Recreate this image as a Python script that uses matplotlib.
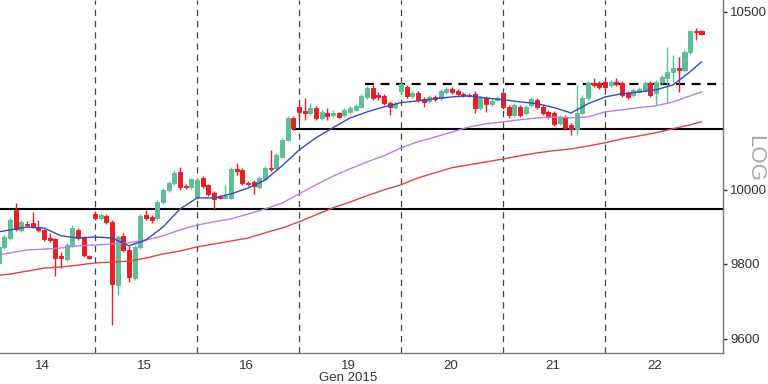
import numpy as np
import matplotlib
matplotlib.use('Agg')
import matplotlib.pyplot as plt

plt.rcParams['font.family'] = ['Liberation Sans', 'DejaVu Sans']

# 30 min bars, 18 per session, 14-22 Jan 2015
day_labels = ['14', '15', '16', '19\nGen 2015', '20', '21', '22']
bars_per_day = 18

opens = [
    9788, 9802, 9845, 9869, 9945, 9891, 9907, 9910, 9899, 9891, 9869, 9866, 9821, 9813, 9850, 9891, 9869, 9821,
    9934, 9923, 9929, 9913, 9743, 9875, 9837, 9762, 9845, 9932, 9926, 9923, 9967, 10000, 10019, 10049, 10011, 10008,
    9981, 10033, 10014, 9992, 9981, 9978, 9978, 10058, 10055, 10019, 10022, 10008, 10030, 10061, 10061, 10091, 10138, 10199,
    10230, 10219, 10213, 10228, 10199, 10213, 10208, 10213, 10208, 10216, 10222, 10230, 10258, 10284, 10264, 10261, 10242, 10230,
    10275, 10286, 10261, 10269, 10253, 10247, 10258, 10255, 10272, 10281, 10275, 10267, 10264, 10267, 10228, 10255, 10239, 10250,
    10269, 10230, 10208, 10230, 10213, 10236, 10250, 10230, 10216, 10213, 10185, 10202, 10180, 10169, 10213, 10255, 10298, 10298,
    10300, 10292, 10300, 10298, 10269, 10264, 10272, 10278, 10298, 10269, 10300, 10312, 10329, 10340, 10334, 10386, 10445, 10445,
]
highs = [
    9810, 9850, 9877, 9923, 9964, 9918, 9915, 9940, 9918, 9893, 9883, 9869, 9831, 9856, 9904, 9896, 9875, 9823,
    9943, 9937, 9934, 9918, 9877, 9883, 9848, 9850, 9934, 9945, 9932, 9973, 10005, 10025, 10055, 10063, 10016, 10033,
    10033, 10038, 10016, 9997, 9986, 10014, 10063, 10074, 10061, 10025, 10027, 10038, 10066, 10110, 10102, 10144, 10205, 10205,
    10239, 10255, 10242, 10233, 10222, 10228, 10222, 10216, 10228, 10233, 10239, 10267, 10289, 10292, 10272, 10267, 10247, 10244,
    10300, 10292, 10275, 10275, 10258, 10264, 10264, 10281, 10286, 10286, 10281, 10272, 10269, 10275, 10261, 10261, 10253, 10261,
    10275, 10236, 10242, 10236, 10236, 10258, 10255, 10236, 10222, 10219, 10208, 10208, 10185, 10292, 10264, 10303, 10312, 10303,
    10306, 10306, 10312, 10303, 10275, 10284, 10286, 10303, 10303, 10306, 10320, 10400, 10377, 10371, 10391, 10448, 10454, 10448,
]
lows = [
    9778, 9794, 9839, 9864, 9888, 9885, 9899, 9896, 9885, 9861, 9858, 9767, 9788, 9807, 9845, 9864, 9818, 9813,
    9918, 9918, 9907, 9637, 9716, 9831, 9751, 9756, 9839, 9918, 9910, 9918, 9962, 9995, 10014, 10000, 10003, 10003,
    9975, 10005, 9984, 9945, 9975, 9975, 9975, 10041, 10014, 10011, 9989, 10003, 10027, 10052, 10055, 10088, 10135, 10166,
    10188, 10194, 10208, 10194, 10194, 10194, 10202, 10199, 10202, 10213, 10219, 10228, 10253, 10250, 10250, 10236, 10208, 10225,
    10269, 10255, 10255, 10244, 10230, 10242, 10247, 10250, 10267, 10267, 10261, 10258, 10258, 10213, 10222, 10216, 10233, 10247,
    10225, 10199, 10202, 10202, 10208, 10230, 10225, 10208, 10197, 10177, 10180, 10166, 10152, 10152, 10208, 10250, 10286, 10281,
    10281, 10286, 10289, 10258, 10253, 10258, 10269, 10272, 10258, 10236, 10295, 10242, 10300, 10272, 10329, 10380, 10420, 10434,
]
closes = [
    9804, 9845, 9872, 9918, 9893, 9913, 9904, 9902, 9891, 9866, 9864, 9815, 9815, 9850, 9896, 9869, 9823, 9815,
    9923, 9932, 9913, 9746, 9872, 9837, 9764, 9845, 9929, 9923, 9918, 9967, 10000, 10019, 10047, 10008, 10008, 10030,
    10027, 10011, 9989, 9975, 9978, 9984, 10058, 10052, 10019, 10016, 10011, 10033, 10061, 10058, 10096, 10138, 10199, 10172,
    10216, 10213, 10228, 10199, 10216, 10205, 10213, 10202, 10222, 10228, 10233, 10261, 10284, 10255, 10258, 10242, 10230, 10239,
    10295, 10261, 10269, 10250, 10244, 10258, 10253, 10275, 10281, 10272, 10267, 10264, 10261, 10228, 10255, 10239, 10247, 10255,
    10230, 10208, 10236, 10208, 10230, 10253, 10230, 10213, 10202, 10183, 10202, 10172, 10169, 10213, 10255, 10298, 10292, 10286,
    10286, 10300, 10295, 10264, 10258, 10278, 10281, 10298, 10264, 10300, 10315, 10329, 10340, 10334, 10386, 10445, 10443, 10437,
]

# moving averages, read every 3rd bar
ma_idx = list(range(0, 126, 3)) + [125]
ma_fast = [9883, 9891, 9899, 9896, 9875, 9869, 9872, 9869, 9848, 9864, 9899, 9948, 9978, 9978, 9989,
           10005, 10027, 10066, 10110, 10144, 10172, 10199, 10216, 10230, 10242, 10247, 10253, 10258,
           10261, 10255, 10250, 10244, 10239, 10228, 10213, 10239, 10258, 10267, 10272, 10278, 10292,
           10329, 10357]
ma_mid = [9821, 9829, 9837, 9839, 9842, 9848, 9850, 9853, 9856, 9864, 9875, 9891, 9904, 9913, 9921,
          9934, 9948, 9964, 9989, 10014, 10038, 10058, 10077, 10094, 10116, 10133, 10146, 10160,
          10174, 10183, 10188, 10194, 10199, 10202, 10199, 10202, 10216, 10222, 10228, 10233, 10244,
          10261, 10272]
ma_slow = [9767, 9772, 9780, 9788, 9791, 9796, 9802, 9804, 9807, 9815, 9826, 9834, 9845, 9853, 9861,
           9869, 9883, 9896, 9913, 9932, 9951, 9967, 9984, 10000, 10014, 10033, 10047, 10061,
           10069, 10077, 10085, 10094, 10102, 10108, 10113, 10121, 10130, 10141, 10149, 10158, 10169,
           10180, 10188]

support_lo = 9948
support_hi = 10169
support_hi_from = 52.7
resist = 10295
resist_from = 65.6

yticks = [9600, 9800, 10000, 10500]

o = np.array(opens)
h = np.array(highs)
l = np.array(lows)
c = np.array(closes)
x = np.arange(len(o))
up = c >= o
green = '#5cbf97'
red = '#ec1c24'
cols = np.where(up, green, red)

fig = plt.figure(figsize=(7.68, 3.84), dpi=100)
ax = fig.add_axes([0, 1 - 353 / 384, 723 / 768, 353 / 384])
ax.set_yscale('log')

x0, x1 = 1.235, 128.8

for d in range(1, len(day_labels)):
    ax.axvline(d * bars_per_day, color='#444444', lw=0.9, ls=(0, (5, 4)), zorder=1)

ax.axhline(support_lo, color='black', lw=1.5, zorder=2)
ax.hlines(support_hi, support_hi_from, x1, colors='black', lw=1.5, zorder=2)
ax.hlines(resist, resist_from, x1, colors='black', lw=1.6, linestyles=(0, (4, 3)), zorder=2)

ax.vlines(x, l, h, colors=cols, lw=1, zorder=3)
ax.bar(x, np.abs(c - o), bottom=np.minimum(o, c), width=0.72, color=cols,
       edgecolor=cols, lw=0.7, zorder=4)

ax.plot(ma_idx, ma_slow, color='#e2443c', lw=1, zorder=5)
ax.plot(ma_idx, ma_mid, color='#b77fe6', lw=1, zorder=5)
ax.plot(ma_idx, ma_fast, color='#3748c4', lw=1, zorder=5)

ax.set_xlim(x0, x1)
ax.set_ylim(9563, 10534)

ax.set_xticks([d * bars_per_day + 8.7 for d in range(len(day_labels))])
ax.set_xticklabels(day_labels, fontsize=9.5, color='#333333', linespacing=1.05)
ax.tick_params(axis='x', length=0, pad=5)

ax.yaxis.tick_right()
ax.yaxis.set_minor_locator(matplotlib.ticker.NullLocator())
ax.set_yticks(yticks)
ax.set_yticklabels([str(v) for v in yticks], fontsize=9.5, color='#333333')
ax.tick_params(axis='y', length=3, width=1, pad=2, color='#333333')

for s in ['left', 'top']:
    ax.spines[s].set_visible(False)
for s in ['right', 'bottom']:
    ax.spines[s].set_color('#777777')
    ax.spines[s].set_linewidth(1)

# sits just above the 10000 label
fig.text(755 / 768, 1 - 158 / 384, 'LOG', rotation=270, ha='center', va='center',
         fontsize=16, color='#aaaaaa')

fig.savefig('out.png', dpi=100)
